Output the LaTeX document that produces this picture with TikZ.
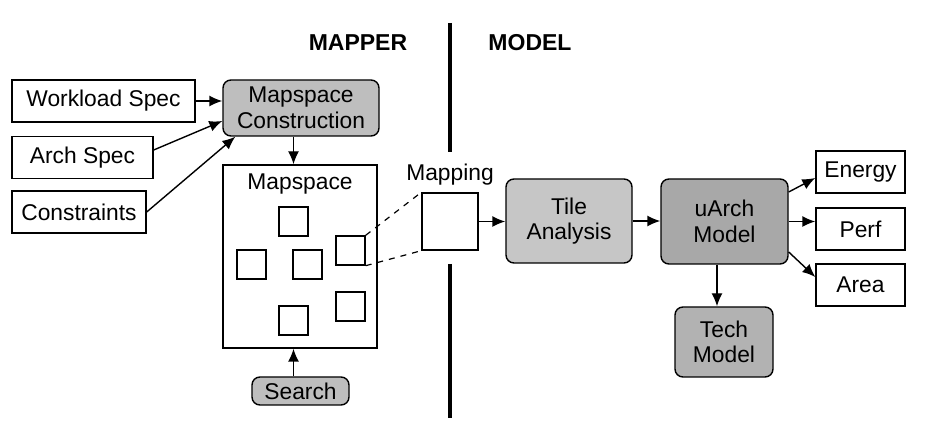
\documentclass[tikz,border=0pt]{standalone}
\usepackage{fontspec}
\setmainfont{Liberation Sans}
\usetikzlibrary{positioning,arrows.meta}

\definecolor{procgray}{HTML}{BEBEBE}
\definecolor{tilegray}{HTML}{C6C6C6}
\definecolor{archgray}{HTML}{A8A8A8}
\definecolor{techgray}{HTML}{B2B2B2}

\tikzset{
  spec/.style={draw, line width=0.7pt, fill=white, minimum height=21pt, inner sep=2pt},
  proc/.style={draw, line width=0.7pt, rounded corners=4pt, align=center, fill=procgray, inner sep=2pt},
  cell/.style={draw, line width=0.7pt, fill=white, minimum size=14.5pt, inner sep=0pt},
  flow/.style={line width=0.7pt, -{Latex[length=6.5pt,width=5.5pt]}},
  head/.style={font=\fontsize{11.5}{13}\selectfont\bfseries}
}

\begin{document}
\begin{tikzpicture}[x=0.5pt,y=-0.5pt,font=\fontsize{11.4}{12.8}\selectfont]
\useasboundingbox (0,0) rectangle (927,442);
% divider between mapper and model
\coordinate (divtop) at (450,23);
\coordinate (divmid) at (450,152);
\coordinate (divlow) at (450,264);
\coordinate (divend) at (450,418);
\draw [line width=2pt] (divtop) -- (divmid) (divlow) -- (divend);
\node [head] (mapper) at (358,43) {MAPPER};
\node [head] (model) at (530,43) {MODEL};
% mapper side
\node [spec, minimum width=91.5pt] (wl) at (103.5,101) {Workload Spec};
\node [spec, minimum width=70.5pt] (arch) at (82.5,157.5) {Arch Spec};
\node [spec, minimum width=67pt] (cons) at (79,212) {Constraints};
\node [proc, minimum width=78pt, minimum height=28pt] (mc) at (301,108) {Mapspace\\Construction};
\node [draw, line width=0.7pt, minimum width=77pt, minimum height=91.5pt] (msp) at (300,256.5) {};
\node [below=1pt of msp.north] (msplabel) {Mapspace};
\foreach \name/\px/\py in {s1/293.5/221.5, s2/251.5/264.5, s3/307.5/264.5,
                           s4/350.5/250.5, s5/350.5/306.5, s6/293.5/320.5}
  \node [cell] (\name) at (\px,\py) {};
\node [proc, minimum width=48.5pt, minimum height=14pt, inner sep=1pt] (search) at (300.5,391) {Search};
\draw [flow] (wl.east) -- (wl.east -| mc.west);
\draw [flow] ([yshift=3.75pt]arch.east) -- ([yshift=-6.5pt]mc.west);
\draw [flow] (cons.east) -- ([xshift=6.5pt]mc.south west);
\draw [flow] (mc.south -| s1) -- (msp.north -| s1);
\draw [flow] (search.north -| s1) -- (msp.south -| s1);
% selected mapping
\node [draw, line width=0.7pt, fill=white, minimum width=28pt, minimum height=28.5pt] (map) at (450,221.5) {};
\node [above=0pt of map] (maplabel) {Mapping};
\draw [dashed, line width=0.6pt] (s4.north east) -- (map.north west);
\draw [dashed, line width=0.6pt] (s4.south east) -- (map.south west);
% model side
\node [proc, fill=tilegray, minimum width=63pt, minimum height=42pt] (tile) at (569,221) {Tile\\Analysis};
\node [proc, fill=archgray, minimum width=63.5pt, minimum height=42.5pt] (uarch) at (724.5,221.5) {uArch\\Model};
\node [proc, fill=techgray, minimum width=49pt, minimum height=35pt] (tech) at (724,342) {Tech\\Model};
\node [spec, minimum width=44.5pt] (energy) at (860.5,172) {Energy};
\node [spec, minimum width=44.5pt] (perf) at (860.5,229) {Perf};
\node [spec, minimum width=44.5pt] (area) at (860.5,285) {Area};
\draw [flow] (map.east) -- (map.east -| tile.west);
\draw [flow] (tile.east) -- (tile.east -| uarch.west);
\draw [flow] ([yshift=14.75pt]uarch.east) -- ([yshift=-3pt]energy.west);
\draw [flow] (uarch.east) -- (uarch.east -| perf.west);
\draw [flow] ([yshift=-15.25pt]uarch.east) -- ([yshift=4pt]area.west);
\draw [flow] ([xshift=-3.75pt]uarch.south) -- ([xshift=-3.5pt]tech.north);
\end{tikzpicture}
\end{document}
